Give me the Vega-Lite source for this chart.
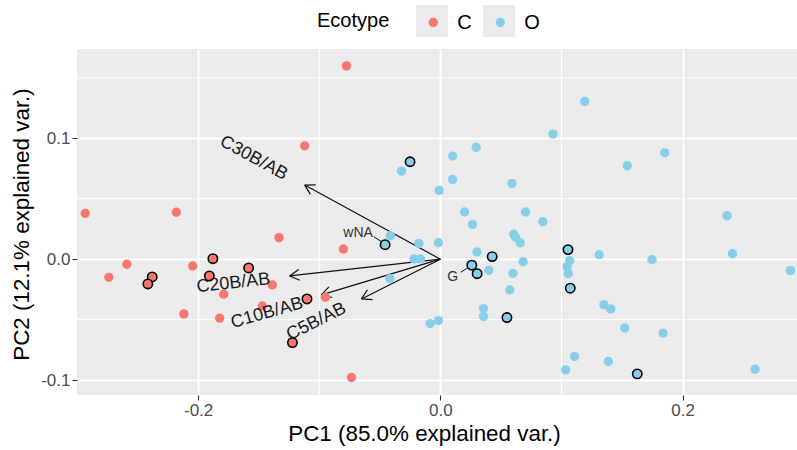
{
  "$schema": "https://vega.github.io/schema/vega-lite/v6.json",
  "width": 720,
  "height": 346,
  "autosize": {"type": "none"},
  "padding": {"left": 77, "top": 49, "right": 0, "bottom": 55},
  "background": "white",
  "view": {"fill": "#EBEBEB", "stroke": null},
  "config": {
    "view": {"fill": "#EBEBEB", "stroke": null},
    "font": "Liberation Sans"
  },
  "datasets": {
    "pts": [
      {"x": -0.0775, "y": 0.1599, "Ecotype": "C", "hl": "n"},
      {"x": -0.1120, "y": 0.0938, "Ecotype": "C", "hl": "n"},
      {"x": -0.2932, "y": 0.0379, "Ecotype": "C", "hl": "n"},
      {"x": -0.2180, "y": 0.0388, "Ecotype": "C", "hl": "n"},
      {"x": -0.1332, "y": 0.0178, "Ecotype": "C", "hl": "n"},
      {"x": -0.0800, "y": 0.0084, "Ecotype": "C", "hl": "n"},
      {"x": -0.2588, "y": -0.0042, "Ecotype": "C", "hl": "n"},
      {"x": -0.2737, "y": -0.0150, "Ecotype": "C", "hl": "n"},
      {"x": -0.2045, "y": -0.0056, "Ecotype": "C", "hl": "n"},
      {"x": -0.1387, "y": -0.0213, "Ecotype": "C", "hl": "n"},
      {"x": -0.1789, "y": -0.0290, "Ecotype": "C", "hl": "n"},
      {"x": -0.2117, "y": -0.0453, "Ecotype": "C", "hl": "n"},
      {"x": -0.1822, "y": -0.0488, "Ecotype": "C", "hl": "n"},
      {"x": -0.1469, "y": -0.0387, "Ecotype": "C", "hl": "n"},
      {"x": -0.0949, "y": -0.0315, "Ecotype": "C", "hl": "n"},
      {"x": -0.0734, "y": -0.0979, "Ecotype": "C", "hl": "n"},
      {"x": -0.0321, "y": 0.0729, "Ecotype": "O", "hl": "n"},
      {"x": 0.0101, "y": 0.0853, "Ecotype": "O", "hl": "n"},
      {"x": 0.0296, "y": 0.0925, "Ecotype": "O", "hl": "n"},
      {"x": 0.0101, "y": 0.0660, "Ecotype": "O", "hl": "n"},
      {"x": -0.0010, "y": 0.0569, "Ecotype": "O", "hl": "n"},
      {"x": 0.0591, "y": 0.0627, "Ecotype": "O", "hl": "n"},
      {"x": 0.0200, "y": 0.0390, "Ecotype": "O", "hl": "n"},
      {"x": 0.0266, "y": 0.0288, "Ecotype": "O", "hl": "n"},
      {"x": 0.0704, "y": 0.0390, "Ecotype": "O", "hl": "n"},
      {"x": 0.0847, "y": 0.0310, "Ecotype": "O", "hl": "n"},
      {"x": 0.0930, "y": 0.1035, "Ecotype": "O", "hl": "n"},
      {"x": 0.1192, "y": 0.1305, "Ecotype": "O", "hl": "n"},
      {"x": 0.1853, "y": 0.0880, "Ecotype": "O", "hl": "n"},
      {"x": 0.1544, "y": 0.0773, "Ecotype": "O", "hl": "n"},
      {"x": 0.2368, "y": 0.0360, "Ecotype": "O", "hl": "n"},
      {"x": -0.0412, "y": 0.0194, "Ecotype": "O", "hl": "n"},
      {"x": -0.0178, "y": 0.0131, "Ecotype": "O", "hl": "n"},
      {"x": -0.0015, "y": 0.0136, "Ecotype": "O", "hl": "n"},
      {"x": -0.0217, "y": 0.0002, "Ecotype": "O", "hl": "n"},
      {"x": -0.0164, "y": 0.0002, "Ecotype": "O", "hl": "n"},
      {"x": -0.0417, "y": -0.0161, "Ecotype": "O", "hl": "n"},
      {"x": 0.0302, "y": 0.0060, "Ecotype": "O", "hl": "n"},
      {"x": 0.0401, "y": -0.0092, "Ecotype": "O", "hl": "n"},
      {"x": 0.0605, "y": 0.0206, "Ecotype": "O", "hl": "n"},
      {"x": 0.0621, "y": 0.0183, "Ecotype": "O", "hl": "n"},
      {"x": 0.0660, "y": 0.0136, "Ecotype": "O", "hl": "n"},
      {"x": 0.0684, "y": -0.0021, "Ecotype": "O", "hl": "n"},
      {"x": 0.0599, "y": -0.0117, "Ecotype": "O", "hl": "n"},
      {"x": 0.0574, "y": -0.0255, "Ecotype": "O", "hl": "n"},
      {"x": 0.0357, "y": -0.0409, "Ecotype": "O", "hl": "n"},
      {"x": 0.0357, "y": -0.0475, "Ecotype": "O", "hl": "n"},
      {"x": -0.0084, "y": -0.0533, "Ecotype": "O", "hl": "n"},
      {"x": -0.0015, "y": -0.0508, "Ecotype": "O", "hl": "n"},
      {"x": 0.1068, "y": -0.0012, "Ecotype": "O", "hl": "n"},
      {"x": 0.1048, "y": -0.0062, "Ecotype": "O", "hl": "n"},
      {"x": 0.1056, "y": -0.0120, "Ecotype": "O", "hl": "n"},
      {"x": 0.1312, "y": 0.0037, "Ecotype": "O", "hl": "n"},
      {"x": 0.1748, "y": -0.0004, "Ecotype": "O", "hl": "n"},
      {"x": 0.2412, "y": 0.0045, "Ecotype": "O", "hl": "n"},
      {"x": 0.2891, "y": -0.0095, "Ecotype": "O", "hl": "n"},
      {"x": 0.1351, "y": -0.0376, "Ecotype": "O", "hl": "n"},
      {"x": 0.1407, "y": -0.0412, "Ecotype": "O", "hl": "n"},
      {"x": 0.1522, "y": -0.0569, "Ecotype": "O", "hl": "n"},
      {"x": 0.1839, "y": -0.0612, "Ecotype": "O", "hl": "n"},
      {"x": 0.1109, "y": -0.0806, "Ecotype": "O", "hl": "n"},
      {"x": 0.1387, "y": -0.0847, "Ecotype": "O", "hl": "n"},
      {"x": 0.1035, "y": -0.0916, "Ecotype": "O", "hl": "n"},
      {"x": 0.2599, "y": -0.0910, "Ecotype": "O", "hl": "n"},
      {"x": -0.2379, "y": -0.0147, "Ecotype": "C", "hl": "y"},
      {"x": -0.2415, "y": -0.0205, "Ecotype": "C", "hl": "y"},
      {"x": -0.1878, "y": 0.0004, "Ecotype": "C", "hl": "y"},
      {"x": -0.1907, "y": -0.0139, "Ecotype": "C", "hl": "y"},
      {"x": -0.1583, "y": -0.0073, "Ecotype": "C", "hl": "y"},
      {"x": -0.1101, "y": -0.0329, "Ecotype": "C", "hl": "y"},
      {"x": -0.1221, "y": -0.0690, "Ecotype": "C", "hl": "y"},
      {"x": -0.0250, "y": 0.0806, "Ecotype": "O", "hl": "y"},
      {"x": -0.0456, "y": 0.0120, "Ecotype": "O", "hl": "y"},
      {"x": 0.0428, "y": 0.0021, "Ecotype": "O", "hl": "y"},
      {"x": 0.0260, "y": -0.0050, "Ecotype": "O", "hl": "y"},
      {"x": 0.0304, "y": -0.0120, "Ecotype": "O", "hl": "y"},
      {"x": 0.0550, "y": -0.0483, "Ecotype": "O", "hl": "y"},
      {"x": 0.1054, "y": 0.0079, "Ecotype": "O", "hl": "y"},
      {"x": 0.1073, "y": -0.0240, "Ecotype": "O", "hl": "y"},
      {"x": 0.1626, "y": -0.0949, "Ecotype": "O", "hl": "y"}
    ],
    "arrows": [
      {"x": 0, "y": 0, "xend": -0.1120, "yend": 0.0613},
      {"x": 0, "y": 0, "xend": -0.1244, "yend": -0.0139},
      {"x": 0, "y": 0, "xend": -0.0982, "yend": -0.0296},
      {"x": 0, "y": 0, "xend": -0.0651, "yend": -0.0329},
      {"x": -0.1120, "y": 0.0613, "xend": -0.1073, "yend": 0.0536},
      {"x": -0.1120, "y": 0.0613, "xend": -0.1029, "yend": 0.0615},
      {"x": -0.1244, "y": -0.0139, "xend": -0.1160, "yend": -0.0175},
      {"x": -0.1244, "y": -0.0139, "xend": -0.1170, "yend": -0.0085},
      {"x": -0.0982, "y": -0.0296, "xend": -0.0893, "yend": -0.0317},
      {"x": -0.0982, "y": -0.0296, "xend": -0.0920, "yend": -0.0230},
      {"x": -0.0651, "y": -0.0329, "xend": -0.0560, "yend": -0.0334},
      {"x": -0.0651, "y": -0.0329, "xend": -0.0602, "yend": -0.0253}
    ],
    "connectors": [
      {"x": -0.0550, "y": 0.0186, "xend": -0.0486, "yend": 0.0145},
      {"x": 0.0169, "y": -0.0108, "xend": 0.0230, "yend": -0.0070}
    ],
    "varlabels": [
      {"x": -0.1541, "y": 0.0836, "label": "C30B/AB"},
      {"x": -0.1709, "y": -0.0199, "label": "C20B/AB"},
      {"x": -0.1431, "y": -0.0447, "label": "C10B/AB"},
      {"x": -0.1023, "y": -0.0517, "label": "C5B/AB"}
    ],
    "ptlabels": [
      {"x": -0.0679, "y": 0.0214, "label": "wNA"},
      {"x": 0.0101, "y": -0.0150, "label": "G"}
    ],
    "vminor": [{"x": -0.1}, {"x": 0.1}],
    "hminor": [{"y": -0.05}, {"y": 0.05}, {"y": 0.15}],
    "keys": [{"key": "key1"}, {"key": "key2"}]
  },
  "layer": [
    {
      "data": {"name": "vminor"},
      "mark": {"type": "rule", "color": "white", "strokeWidth": 0.9},
      "encoding": {
        "x": {
          "field": "x", "type": "quantitative",
          "scale": {"domain": [-0.3, 0.2945], "nice": false, "zero": false},
          "axis": {
            "values": [-0.2, 0, 0.2],
            "labelExpr": "replace(format(datum.value, '.1f'), '\u2212', '-')",
            "domain": false,
            "grid": true, "gridColor": "white", "gridWidth": 1.8,
            "ticks": true, "tickColor": "#333333", "tickSize": 5, "tickWidth": 1.1,
            "labelFontSize": 17, "labelColor": "#4D4D4D", "labelPadding": 2,
            "title": "PC1 (85.0% explained var.)",
            "titleFontSize": 22.4, "titleFontWeight": "normal", "titleColor": "black",
            "titleX": 347, "titleY": 45, "titleBaseline": "alphabetic", "titleAlign": "center"
          }
        }
      }
    },
    {
      "data": {"name": "hminor"},
      "mark": {"type": "rule", "color": "white", "strokeWidth": 0.9},
      "encoding": {
        "y": {
          "field": "y", "type": "quantitative",
          "scale": {"domain": [-0.1124, 0.1739], "nice": false, "zero": false},
          "axis": {
            "values": [-0.1, 0, 0.1],
            "labelExpr": "replace(format(datum.value, '.1f'), '\u2212', '-')",
            "domain": false,
            "grid": true, "gridColor": "white", "gridWidth": 1.8,
            "ticks": true, "tickColor": "#333333", "tickSize": 5, "tickWidth": 1.1,
            "labelFontSize": 17, "labelColor": "#4D4D4D", "labelPadding": 2,
            "title": "PC2 (12.1% explained var.)",
            "titleFontSize": 22.4, "titleFontWeight": "normal", "titleColor": "black",
            "titleX": -48.5, "titleY": 175, "titleBaseline": "alphabetic", "titleAlign": "center"
          }
        }
      }
    },
    {
      "data": {"name": "arrows"},
      "mark": {"type": "rule", "color": "#111111", "strokeWidth": 1.2},
      "encoding": {
        "x": {"field": "x", "type": "quantitative"},
        "y": {"field": "y", "type": "quantitative"},
        "x2": {"field": "xend"},
        "y2": {"field": "yend"}
      }
    },
    {
      "data": {"name": "connectors"},
      "mark": {"type": "rule", "color": "#111111", "strokeWidth": 1},
      "encoding": {
        "x": {"field": "x", "type": "quantitative"},
        "y": {"field": "y", "type": "quantitative"},
        "x2": {"field": "xend"},
        "y2": {"field": "yend"}
      }
    },
    {
      "data": {"name": "pts"},
      "mark": {"type": "point", "filled": true, "size": 87, "strokeWidth": 1.6, "opacity": 1},
      "encoding": {
        "x": {"field": "x", "type": "quantitative"},
        "y": {"field": "y", "type": "quantitative"},
        "fill": {
          "field": "Ecotype", "type": "nominal",
          "scale": {"domain": ["C", "O"], "range": ["#F8766D", "#87CEEB"]},
          "legend": {
            "orient": "none", "legendX": 346.3, "legendY": -36.5,
            "direction": "horizontal", "title": null, "padding": 0, "zindex": 2,
            "symbolType": "circle", "symbolSize": 87, "symbolStrokeWidth": 0,
            "symbolStrokeColor": "transparent", "symbolOpacity": 1,
            "labelFontSize": 20, "labelColor": "black", "labelOffset": 14,
            "columnPadding": 18
          }
        },
        "stroke": {
          "field": "hl", "type": "nominal",
          "scale": {"domain": ["y", "n"], "range": ["black", "transparent"]},
          "legend": null
        }
      }
    },
    {
      "data": {"name": "keys"},
      "mark": {"type": "point", "filled": true, "color": "#EBEBEB", "opacity": 0},
      "encoding": {
        "shape": {
          "field": "key", "type": "nominal",
          "scale": {"domain": ["key1", "key2"], "range": ["square", "square"]},
          "legend": {
            "orient": "none", "legendX": 240, "legendY": -44,
            "direction": "horizontal", "padding": 0, "zindex": 0,
            "title": "Ecotype", "titleOrient": "left", "titleFontSize": 20,
            "titleFontWeight": "normal", "titleColor": "black", "titlePadding": 26,
            "titleAnchor": "middle", "titleBaseline": "middle",
            "symbolSize": 1024, "symbolStrokeWidth": 0, "symbolOpacity": 1,
            "symbolFillColor": "#EBEBEB",
            "labelFontSize": 20, "labelColor": "transparent", "labelOffset": 0,
            "labelExpr": "''",
            "columnPadding": 35
          }
        }
      }
    },
    {
      "data": {"name": "varlabels"},
      "transform": [{"filter": "datum.label == 'C30B/AB'"}],
      "mark": {"type": "text", "fontSize": 18, "angle": 28.6, "align": "center", "baseline": "middle", "color": "#1A1A1A"},
      "encoding": {
        "x": {"field": "x", "type": "quantitative"},
        "y": {"field": "y", "type": "quantitative"},
        "text": {"field": "label"}
      }
    },
    {
      "data": {"name": "varlabels"},
      "transform": [{"filter": "datum.label == 'C20B/AB'"}],
      "mark": {"type": "text", "fontSize": 18, "angle": -6.4, "align": "center", "baseline": "middle", "color": "#1A1A1A"},
      "encoding": {
        "x": {"field": "x", "type": "quantitative"},
        "y": {"field": "y", "type": "quantitative"},
        "text": {"field": "label"}
      }
    },
    {
      "data": {"name": "varlabels"},
      "transform": [{"filter": "datum.label == 'C10B/AB'"}],
      "mark": {"type": "text", "fontSize": 18, "angle": -16, "align": "center", "baseline": "middle", "color": "#1A1A1A"},
      "encoding": {
        "x": {"field": "x", "type": "quantitative"},
        "y": {"field": "y", "type": "quantitative"},
        "text": {"field": "label"}
      }
    },
    {
      "data": {"name": "varlabels"},
      "transform": [{"filter": "datum.label == 'C5B/AB'"}],
      "mark": {"type": "text", "fontSize": 18, "angle": -26.6, "align": "center", "baseline": "middle", "color": "#1A1A1A"},
      "encoding": {
        "x": {"field": "x", "type": "quantitative"},
        "y": {"field": "y", "type": "quantitative"},
        "text": {"field": "label"}
      }
    },
    {
      "data": {"name": "ptlabels"},
      "mark": {"type": "text", "fontSize": 14, "align": "center", "baseline": "middle", "color": "#333333"},
      "encoding": {
        "x": {"field": "x", "type": "quantitative"},
        "y": {"field": "y", "type": "quantitative"},
        "text": {"field": "label"}
      }
    }
  ]
}
